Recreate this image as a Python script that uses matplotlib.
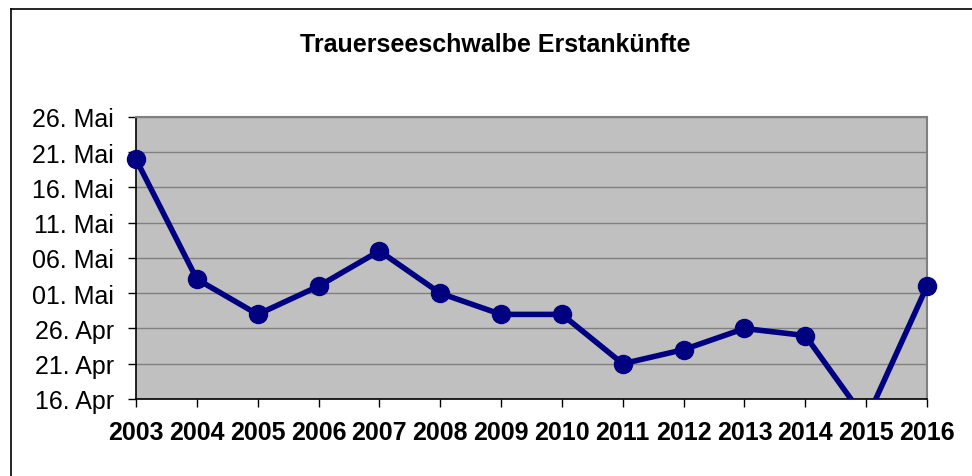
import datetime as dt
import matplotlib
matplotlib.use("Agg")
import matplotlib.pyplot as plt
import matplotlib.dates as mdates

plt.rcParams['font.family'] = ['Liberation Sans', 'DejaVu Sans']

years = ['2003', '2004', '2005', '2006', '2007', '2008', '2009',
         '2010', '2011', '2012', '2013', '2014', '2015', '2016']
# first arrival (day, month)
arrival = [(20, 5), (3, 5), (28, 4), (2, 5), (7, 5), (1, 5), (28, 4),
           (28, 4), (21, 4), (23, 4), (26, 4), (25, 4), (13, 4), (2, 5)]
ytick_days = [(16, 4), (21, 4), (26, 4), (1, 5), (6, 5), (11, 5), (16, 5),
              (21, 5), (26, 5)]
ytick_labels = ['16. Apr', '21. Apr', '26. Apr', '01. Mai', '06. Mai',
                '11. Mai', '16. Mai', '21. Mai', '26. Mai']
title = 'Trauerseeschwalbe Erstankünfte'


def as_num(dm):
    return mdates.date2num(dt.datetime(2001, dm[1], dm[0]))


yvals = [as_num(a) for a in arrival]
yticks = [as_num(t) for t in ytick_days]
x = list(range(len(years)))

fig = plt.figure(figsize=(9.72, 4.77), dpi=100)
ax = fig.add_axes([136 / 972, 1 - 400 / 477, (927 - 136) / 972, (400 - 118) / 477])
ax.set_facecolor('#C0C0C0')

# outer chart frame (only top and left edges visible)
fig.add_artist(plt.Line2D([11 / 972, 11 / 972], [0, 1 - 10 / 477],
                          color='black', lw=1.2, transform=fig.transFigure))
fig.add_artist(plt.Line2D([11 / 972, 1], [1 - 10 / 477, 1 - 10 / 477],
                          color='black', lw=1.2, transform=fig.transFigure))

ymin, ymax = yticks[0], yticks[-1]
ax.set_ylim(ymin, ymax)
ax.set_xlim(x[0], x[-1])

ax.plot(x, yvals, color='#000080', lw=4, solid_capstyle='round', zorder=3)
vis = [(xi, yi) for xi, yi in zip(x, yvals) if ymin <= yi <= ymax]
ax.plot([v[0] for v in vis], [v[1] for v in vis], 'o', color='#000080',
        ms=13, clip_on=False, zorder=4)

ax.set_yticks(yticks)
ax.set_yticklabels(ytick_labels, fontsize=18)
ax.set_xticks(x)
ax.set_xticklabels(years, fontsize=18, fontweight='bold')
ax.tick_params(axis='y', length=6, width=1, pad=10)
ax.tick_params(axis='x', length=6, width=1, pad=9)

ax.grid(axis='y', color='#808080', lw=1)
ax.set_axisbelow(True)
for s in ['top', 'right']:
    ax.spines[s].set_color('#808080')
    ax.spines[s].set_linewidth(1.5)
for s in ['left', 'bottom']:
    ax.spines[s].set_color('black')
    ax.spines[s].set_linewidth(1.2)

fig.text(495 / 972, 1 - 45 / 477, title, ha='center', va='center',
         fontsize=18, fontweight='bold')

fig.savefig('out.png', dpi=100)
